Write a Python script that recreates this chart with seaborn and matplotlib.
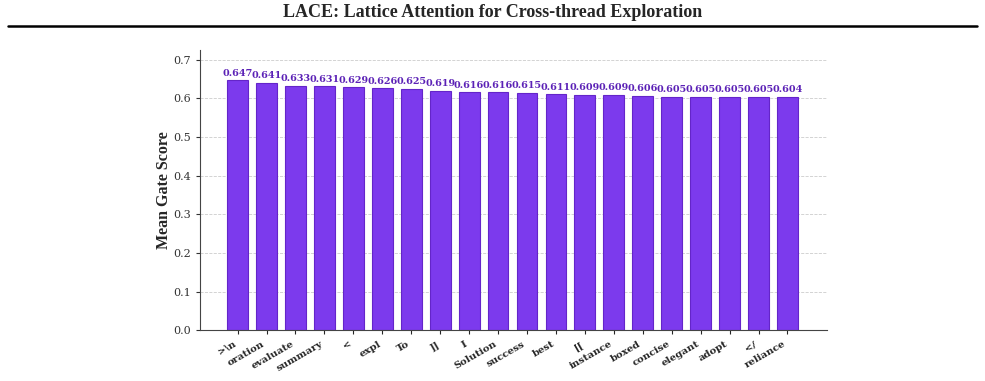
import numpy as np
import pandas as pd
import seaborn as sns
import matplotlib.pyplot as plt
from matplotlib.lines import Line2D

# tokens com maior gate score médio
tokens = ['>\\n', 'oration', 'evaluate', 'summary', '<', 'expl', 'To', ']]', 'I',
          'Solution', 'success', 'best', '[[', 'instance', 'boxed', 'concise',
          'elegant', 'adopt', '</', 'reliance']
scores = [0.647, 0.641, 0.633, 0.631, 0.629, 0.626, 0.625, 0.619, 0.616, 0.616,
          0.615, 0.611, 0.609, 0.609, 0.606, 0.605, 0.605, 0.605, 0.605, 0.604]

df = pd.DataFrame({'token': tokens, 'score': scores})

sns.set_style('ticks')
plt.rcParams['font.family'] = ['DejaVu Serif']

fig = plt.figure(figsize=(9.85, 3.81), dpi=100)
ax = fig.add_axes([0.203, 0.133, 0.637, 0.735])

sns.barplot(data=df, x='token', y='score', color='#7c3aed', saturation=1,
            width=0.72, edgecolor='#6425c9', linewidth=0.8, ax=ax)

# valores acima das barras
for i, v in enumerate(scores):
    ax.text(i, v + 0.007, f'{v:.3f}', ha='center', va='bottom',
            fontsize=6.9, fontweight='bold', color='#5b21b6')

ax.set_ylim(0, max(scores) * 1.12)
ax.set_xlim(-1.3, len(tokens) - 1 + 1.38)
ax.set_yticks(np.arange(0, 0.71, 0.1))
ax.yaxis.grid(True, linestyle='--', color='#cccccc', linewidth=0.6)
ax.set_axisbelow(True)
ax.tick_params(axis='y', labelsize=8, colors='#333333', length=3)
ax.tick_params(axis='x', length=3)
ax.set_xticks(range(len(tokens)))
ax.set_xticklabels(tokens, rotation=30, ha='right', fontsize=7.2, fontweight='bold')
ax.set_xlabel('')
ax.set_ylabel('Mean Gate Score', fontsize=11.5, fontweight='bold',
              family='Liberation Serif', labelpad=1)
sns.despine(ax=ax)
for s in ['left', 'bottom']:
    ax.spines[s].set_color('#444444')

fig.text(0.5, 0.966, 'LACE: Lattice Attention for Cross-thread Exploration',
         ha='center', va='center', fontsize=13, fontweight='bold',
         family='Liberation Serif')
fig.add_artist(Line2D([0.008, 0.992], [0.933, 0.933], color='black', linewidth=1.8))

fig.savefig('out.png', dpi=100)
